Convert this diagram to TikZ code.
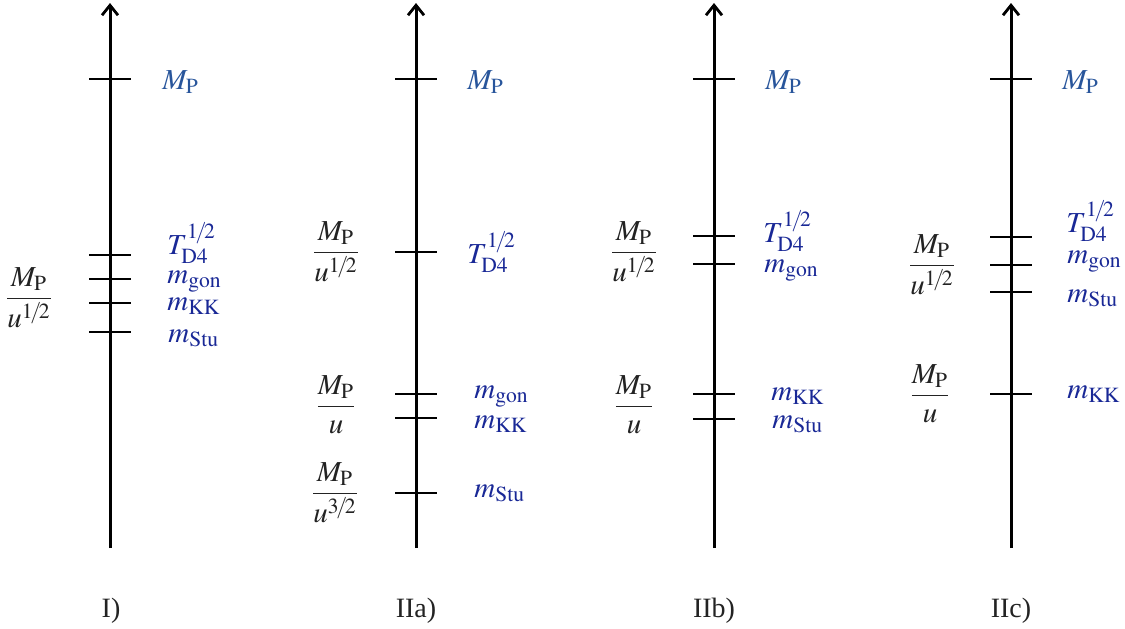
\documentclass[tikz,border=0pt]{standalone}
\usepackage{mathptmx}
\usepackage[no-math]{fontspec}
\setmainfont{Liberation Serif}
\usetikzlibrary{arrows.meta}
\definecolor{mpblue}{RGB}{40,85,155}
\definecolor{labblue}{RGB}{25,40,150}
\definecolor{fracgray}{RGB}{35,35,35}
\DeclareMathSizes{14.5}{14.5}{10.8}{8}
\tikzset{
 axisline/.style={line width=1.5pt, line cap=butt, -{Straight Barb[length=5pt,width=8pt,line width=1.4pt]}},
 tickline/.style={line width=0.7pt},
 lab/.style={anchor=base west, inner sep=0pt, text=labblue, font=\fontsize{14.5}{17}\selectfont},
 mplab/.style={lab, text=mpblue},
 fraclab/.style={anchor=base, inner sep=0pt, text=fracgray, font=\fontsize{14.5}{17}\selectfont},
 panellab/.style={anchor=base, inner sep=0pt, font=\fontsize{14}{16}\selectfont, text=fracgray}
}
\newcommand\tk[2]{\draw[tickline] ({#1-21},#2) -- ({#1+21},#2);}
\newcommand\hf{1\mkern-2mu/\mkern-2mu2}
\newcommand\fr[1]{$\displaystyle\frac{M_{\mathrm{P}}}{#1}$}
\newcommand\TD{$T^{\hf}_{\mathrm{D4}}$}
\begin{document}
\begin{tikzpicture}[x=0.5pt,y=-0.5pt]
\useasboundingbox (0,0) rectangle (1125,628);
% Axes
\coordinate (a1b) at (110,548); \coordinate (a1t) at (110,3);
\coordinate (a2b) at (416,548); \coordinate (a2t) at (416,3);
\coordinate (a3b) at (714,548); \coordinate (a3t) at (714,3);
\coordinate (a4b) at (1011,548); \coordinate (a4t) at (1011,3);
\draw[axisline] (a1b) -- (a1t);
\draw[axisline] (a2b) -- (a2t);
\draw[axisline] (a3b) -- (a3t);
\draw[axisline] (a4b) -- (a4t);
% Panel I
\tk{110}{79}\tk{110}{255}\tk{110}{279}\tk{110}{303}\tk{110}{332}
\node[mplab] (i-mp) at (162,89) {$M_{\mathrm{P}}$};
\node[lab] (i-t) at (167,254) {\TD};
\node[lab] (i-gon) at (167,283) {$m_{\mathrm{gon}}$};
\node[lab] (i-kk) at (167,310) {$m_{\mathrm{KK}}$};
\node[lab] (i-stu) at (168,342) {$m_{\mathrm{Stu}}$};
\node[fraclab] (i-f1) at (29,306) {\fr{u^{\hf}}};
% Panel IIa
\tk{416}{79}\tk{416}{252}\tk{416}{394}\tk{416}{418}\tk{416}{493}
\node[mplab] (a-mp) at (467,89) {$M_{\mathrm{P}}$};
\node[lab] (a-t) at (467,263) {\TD};
\node[lab] (a-gon) at (474,398) {$m_{\mathrm{gon}}$};
\node[lab] (a-kk) at (474,428) {$m_{\mathrm{KK}}$};
\node[lab] (a-stu) at (474,497) {$m_{\mathrm{Stu}}$};
\node[fraclab] (a-f1) at (336,260) {\fr{u^{\hf}}};
\node[fraclab] (a-f2) at (336,414) {\fr{u}};
\node[fraclab] (a-f3) at (335,501) {\fr{u^{3\mkern-2mu/\mkern-2mu2}}};
% Panel IIb
\tk{714}{79}\tk{714}{236}\tk{714}{264}\tk{714}{394}\tk{714}{419}
\node[mplab] (b-mp) at (765,89) {$M_{\mathrm{P}}$};
\node[lab] (b-t) at (763,242) {\TD};
\node[lab] (b-gon) at (764,272) {$m_{\mathrm{gon}}$};
\node[lab] (b-kk) at (771,400) {$m_{\mathrm{KK}}$};
\node[lab] (b-stu) at (772,428) {$m_{\mathrm{Stu}}$};
\node[fraclab] (b-f1) at (634,260) {\fr{u^{\hf}}};
\node[fraclab] (b-f2) at (634,414) {\fr{u}};
% Panel IIc
\tk{1011}{79}\tk{1011}{237}\tk{1011}{265}\tk{1011}{292}\tk{1011}{394}
\node[mplab] (c-mp) at (1062,89) {$M_{\mathrm{P}}$};
\node[lab] (c-t) at (1066,232) {\TD};
\node[lab] (c-gon) at (1067,263) {$m_{\mathrm{gon}}$};
\node[lab] (c-stu) at (1067,302) {$m_{\mathrm{Stu}}$};
\node[lab] (c-kk) at (1067,398) {$m_{\mathrm{KK}}$};
\node[fraclab] (c-f1) at (932,273) {\fr{u^{\hf}}};
\node[fraclab] (c-f2) at (930,403) {\fr{u}};
% Panel labels
\node[panellab] (p1) at (111,617) {I)};
\node[panellab] (p2) at (416,617) {IIa)};
\node[panellab] (p3) at (714,617) {IIb)};
\node[panellab] (p4) at (1011,617) {IIc)};
\end{tikzpicture}
\end{document}
